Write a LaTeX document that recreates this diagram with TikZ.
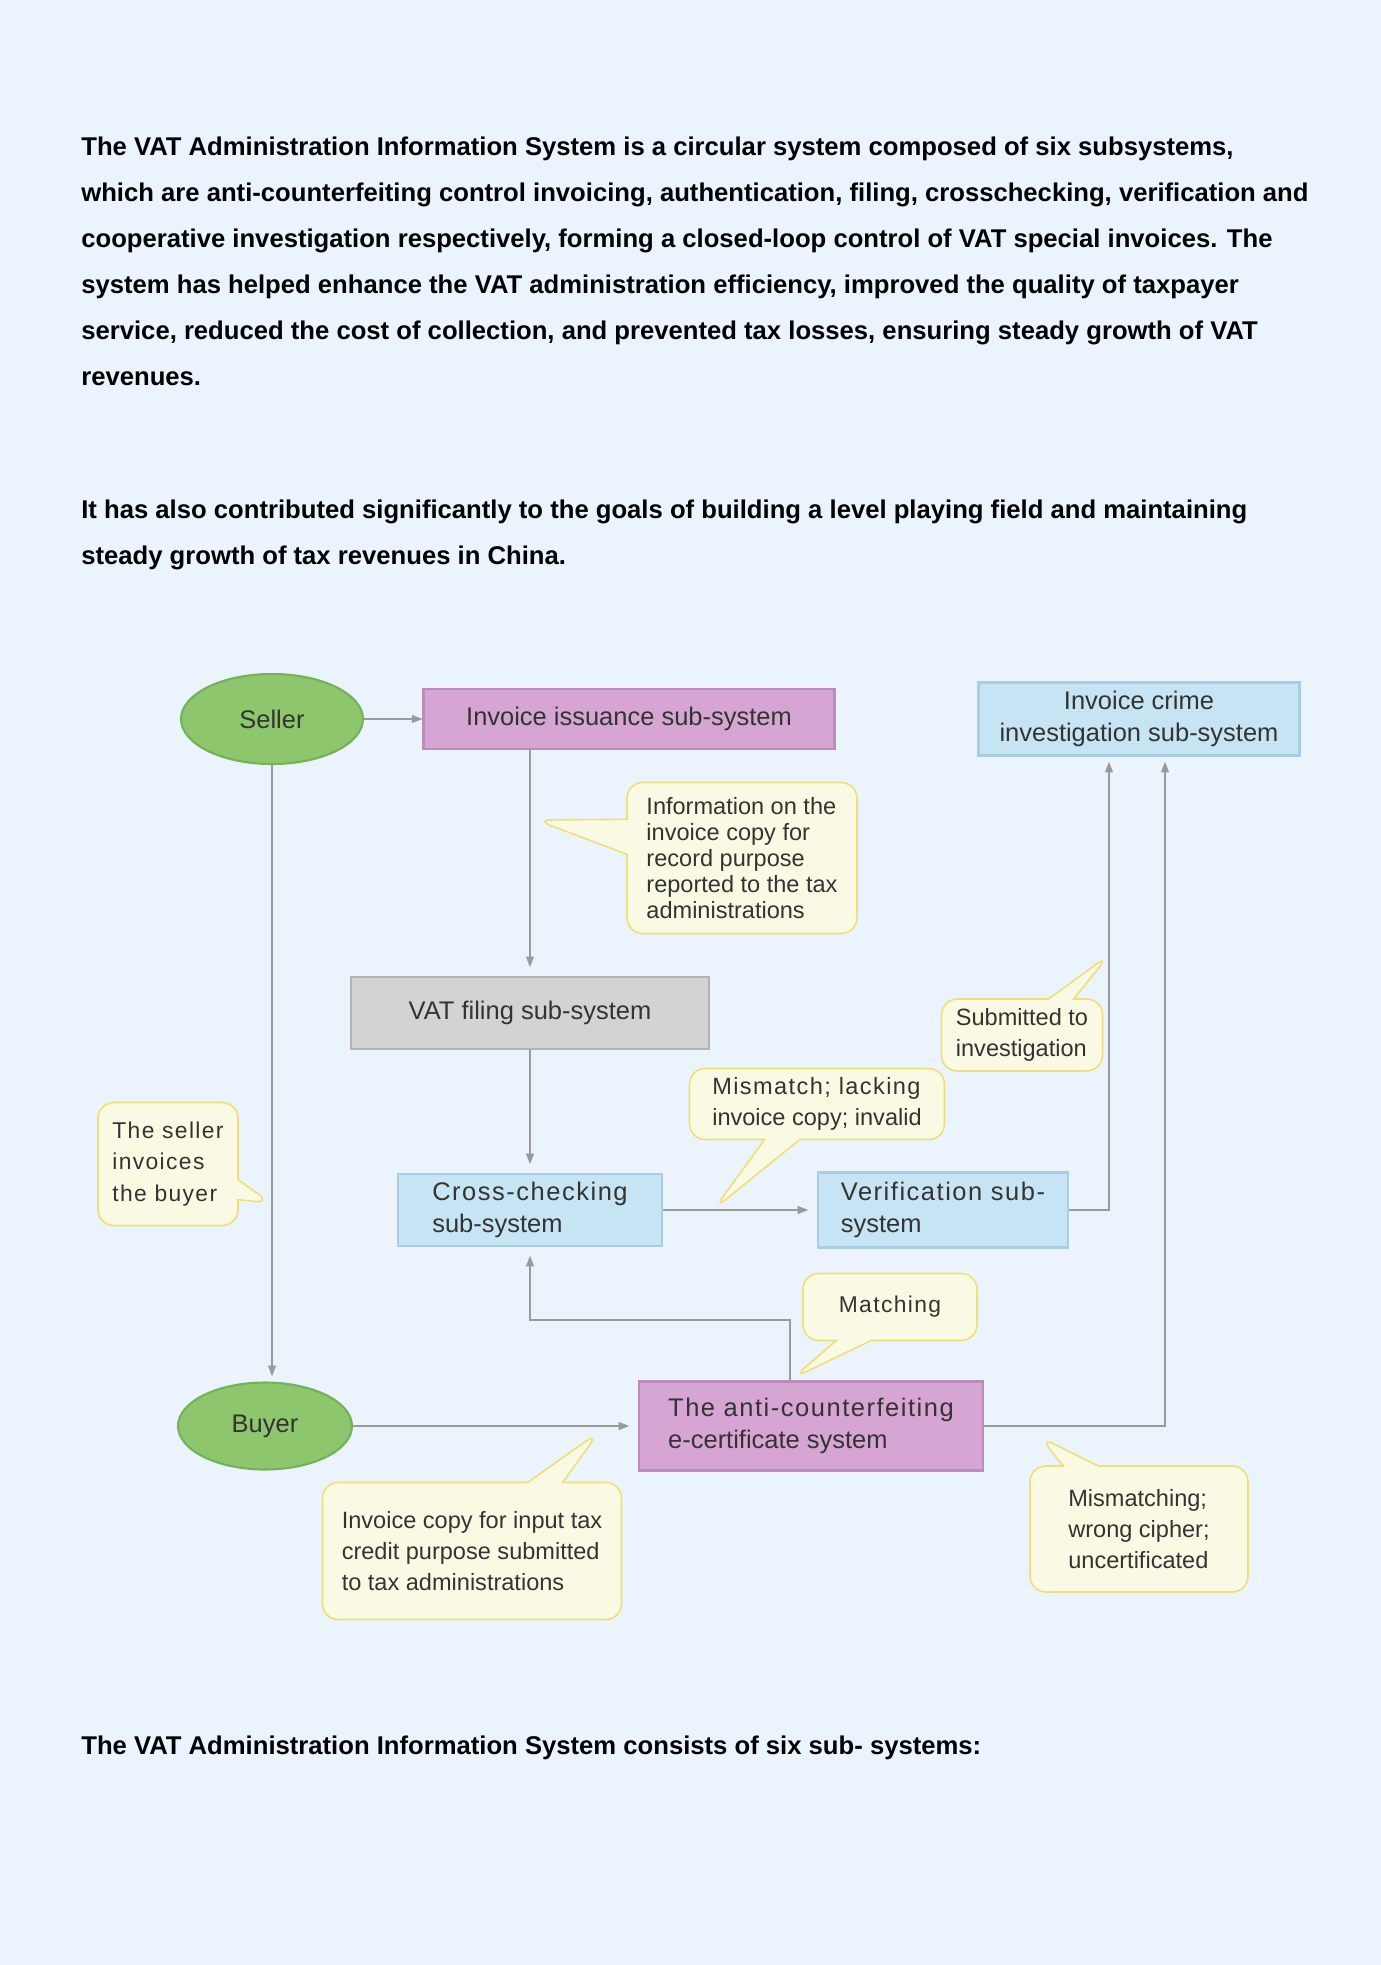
\documentclass[tikz,border=0pt]{standalone}
\usepackage{fontspec}
\setmainfont{Liberation Sans}
\newfontfamily\widesans[LetterSpace=6]{Liberation Sans}
\usepackage{xcolor}
\usetikzlibrary{arrows.meta,shapes.geometric,shapes.callouts}

\definecolor{pagebg}{HTML}{EBF3FC}
\definecolor{inkgray}{HTML}{333333}
\definecolor{linegray}{HTML}{9A9A9A}
\definecolor{leafgreen}{HTML}{8DC66C}
\definecolor{leafdark}{HTML}{76B05A}
\definecolor{boxpink}{HTML}{D7A5D4}
\definecolor{boxpinkdark}{HTML}{BC8CB9}
\definecolor{boxblue}{HTML}{C7E4F5}
\definecolor{boxbluedark}{HTML}{A9CDE2}
\definecolor{boxgray}{HTML}{D3D3D3}
\definecolor{boxgraydark}{HTML}{B3B3B3}
\definecolor{notefill}{HTML}{FAFAE4}
\definecolor{noteline}{HTML}{F0DE78}

\begin{document}
\begin{tikzpicture}[
    x=0.02cm, y=-0.02cm,
    every node/.style={text=inkgray, inner sep=0pt},
    arr/.style={draw=linegray, line width=0.7pt, -{Triangle[length=6pt,width=4.5pt]}},
    oval/.style={ellipse, fill=leafgreen, draw=leafdark, line width=1.2pt, font=\fontsize{14.5}{17}\selectfont},
    subsys/.style={rectangle, line width=1.2pt, align=center, font=\fontsize{14.5}{17.8}\selectfont},
    pinkbox/.style={subsys, fill=boxpink, draw=boxpinkdark},
    bluebox/.style={subsys, fill=boxblue, draw=boxbluedark},
    graybox/.style={subsys, fill=boxgray, draw=boxgraydark},
    bubble/.style={rectangle callout, rounded corners=9pt, fill=notefill, draw=noteline, line width=0.9pt,
        align=left, callout pointer width=0.7cm, font=\fontsize{13.4}{14.8}\selectfont},
    prose/.style={anchor=north west, align=left, text=black, font=\bfseries\fontsize{14.6}{26.1}\selectfont}
]

\fill[pagebg] (0,0) rectangle (1381,1965);

% page text
\node[prose] (intro) at (81,137) {The VAT Administration Information System is a circular system composed of six subsystems,\\
which are anti-counterfeiting control invoicing, authentication, filing, crosschecking, verification and\\
cooperative investigation respectively, forming a closed-loop control of VAT special invoices. The\\
system has helped enhance the VAT administration efficiency, improved the quality of taxpayer\\
service, reduced the cost of collection, and prevented tax losses, ensuring steady growth of VAT\\
revenues.};
\node[prose] (goals) at (81,500) {It has also contributed significantly to the goals of building a level playing field and maintaining\\
steady growth of tax revenues in China.};
\node[prose] (outro) at (81,1736) {The VAT Administration Information System consists of six sub- systems:};

% sub-systems
\node[oval, minimum width=3.64cm, minimum height=1.8cm] (seller) at (272,719) {Seller};
\node[oval, minimum width=3.48cm, minimum height=1.74cm] (buyer) at (265,1426) {Buyer};
\node[pinkbox, minimum width=8.22cm, minimum height=1.2cm] (issue) at (629,719) {Invoice issuance sub-system};
\node[bluebox, minimum width=6.42cm, minimum height=1.46cm] (crime) at (1139,719) {Invoice crime\\investigation sub-system};
\node[graybox, minimum width=7.16cm, minimum height=1.44cm] (filing) at (530,1013) {VAT filing sub-system};
\node[bluebox, minimum width=5.28cm, minimum height=1.44cm, align=left] (cross) at (530,1210) {{\widesans Cross-checking}\\sub-system};
\node[bluebox, minimum width=5cm, minimum height=1.5cm, align=left] (verify) at (943,1210) {{\widesans Verification sub-}\\system};
\node[pinkbox, minimum width=6.88cm, minimum height=1.78cm, align=left] (anti) at (811,1426) {{\widesans The anti-counterfeiting}\\e-certificate system};

% flows
\coordinate (matchturn) at (790,1320);
\draw[arr] (seller) -- (issue);
\draw[arr, shorten >=5pt] (issue.south -| filing.north) -- (filing.north);
\draw[arr, shorten >=5pt] (filing) -- (cross);
\draw[arr, shorten >=5pt] (cross) -- (verify);
\draw[arr, shorten >=3pt] (verify.east) -| ([xshift=-0.6cm]crime.south);
\draw[arr, shorten >=3pt] (anti.east) -| ([xshift=0.52cm]crime.south);
\draw[arr, shorten >=5pt] (anti.north -| matchturn) -- (matchturn) -| (cross.south);
\draw[arr, shorten >=3pt] (seller.south) -- (seller.south |- buyer.north);
\draw[arr, shorten >=5pt] (buyer) -- (anti);

% notes
\coordinate (infotip) at (536,820);
\coordinate (submittip) at (1109,955);
\coordinate (mismatchtip) at (714,1209);
\coordinate (sellertip) at (271,1203);
\coordinate (matchtip) at (793,1378);
\coordinate (copytip) at (599,1432);
\coordinate (wrongtip) at (1040,1437);
\node[bubble, minimum width=4.6cm, minimum height=3.02cm, callout absolute pointer={(infotip)}] (info) at (742,858)
    {Information on the\\invoice copy for\\record purpose\\reported to the tax\\administrations};
\node[bubble, minimum width=3.22cm, minimum height=1.44cm, callout pointer width=0.5cm,
    font=\fontsize{13.4}{17.8}\selectfont, callout absolute pointer={(submittip)}] (submit) at (1022,1035)
    {Submitted to\\investigation};
\node[bubble, minimum width=5.1cm, minimum height=1.42cm, font=\fontsize{13.4}{17.8}\selectfont,
    callout absolute pointer={(mismatchtip)}] (mismatch) at (817,1104)
    {{\widesans Mismatch; lacking}\\invoice copy; invalid};
\node[bubble, minimum width=2.8cm, minimum height=2.46cm, callout pointer width=0.4cm,
    font=\widesans\fontsize{13}{18}\selectfont, callout absolute pointer={(sellertip)}] (sellnote) at (168,1164)
    {The seller\\invoices\\the buyer};
\node[bubble, minimum width=3.48cm, minimum height=1.34cm, font=\widesans\fontsize{13}{16}\selectfont,
    callout absolute pointer={(matchtip)}] (match) at (890,1307) {Matching};
\node[bubble, minimum width=5.98cm, minimum height=2.74cm, font=\fontsize{13.4}{17.8}\selectfont,
    callout absolute pointer={(copytip)}] (copy) at (472,1551)
    {Invoice copy for input tax\\credit purpose submitted\\to tax administrations};
\node[bubble, minimum width=4.36cm, minimum height=2.52cm, font=\fontsize{13.4}{17.8}\selectfont,
    callout absolute pointer={(wrongtip)}] (wrong) at (1139,1529)
    {Mismatching;\\wrong cipher;\\uncertificated};

\end{tikzpicture}
\end{document}
